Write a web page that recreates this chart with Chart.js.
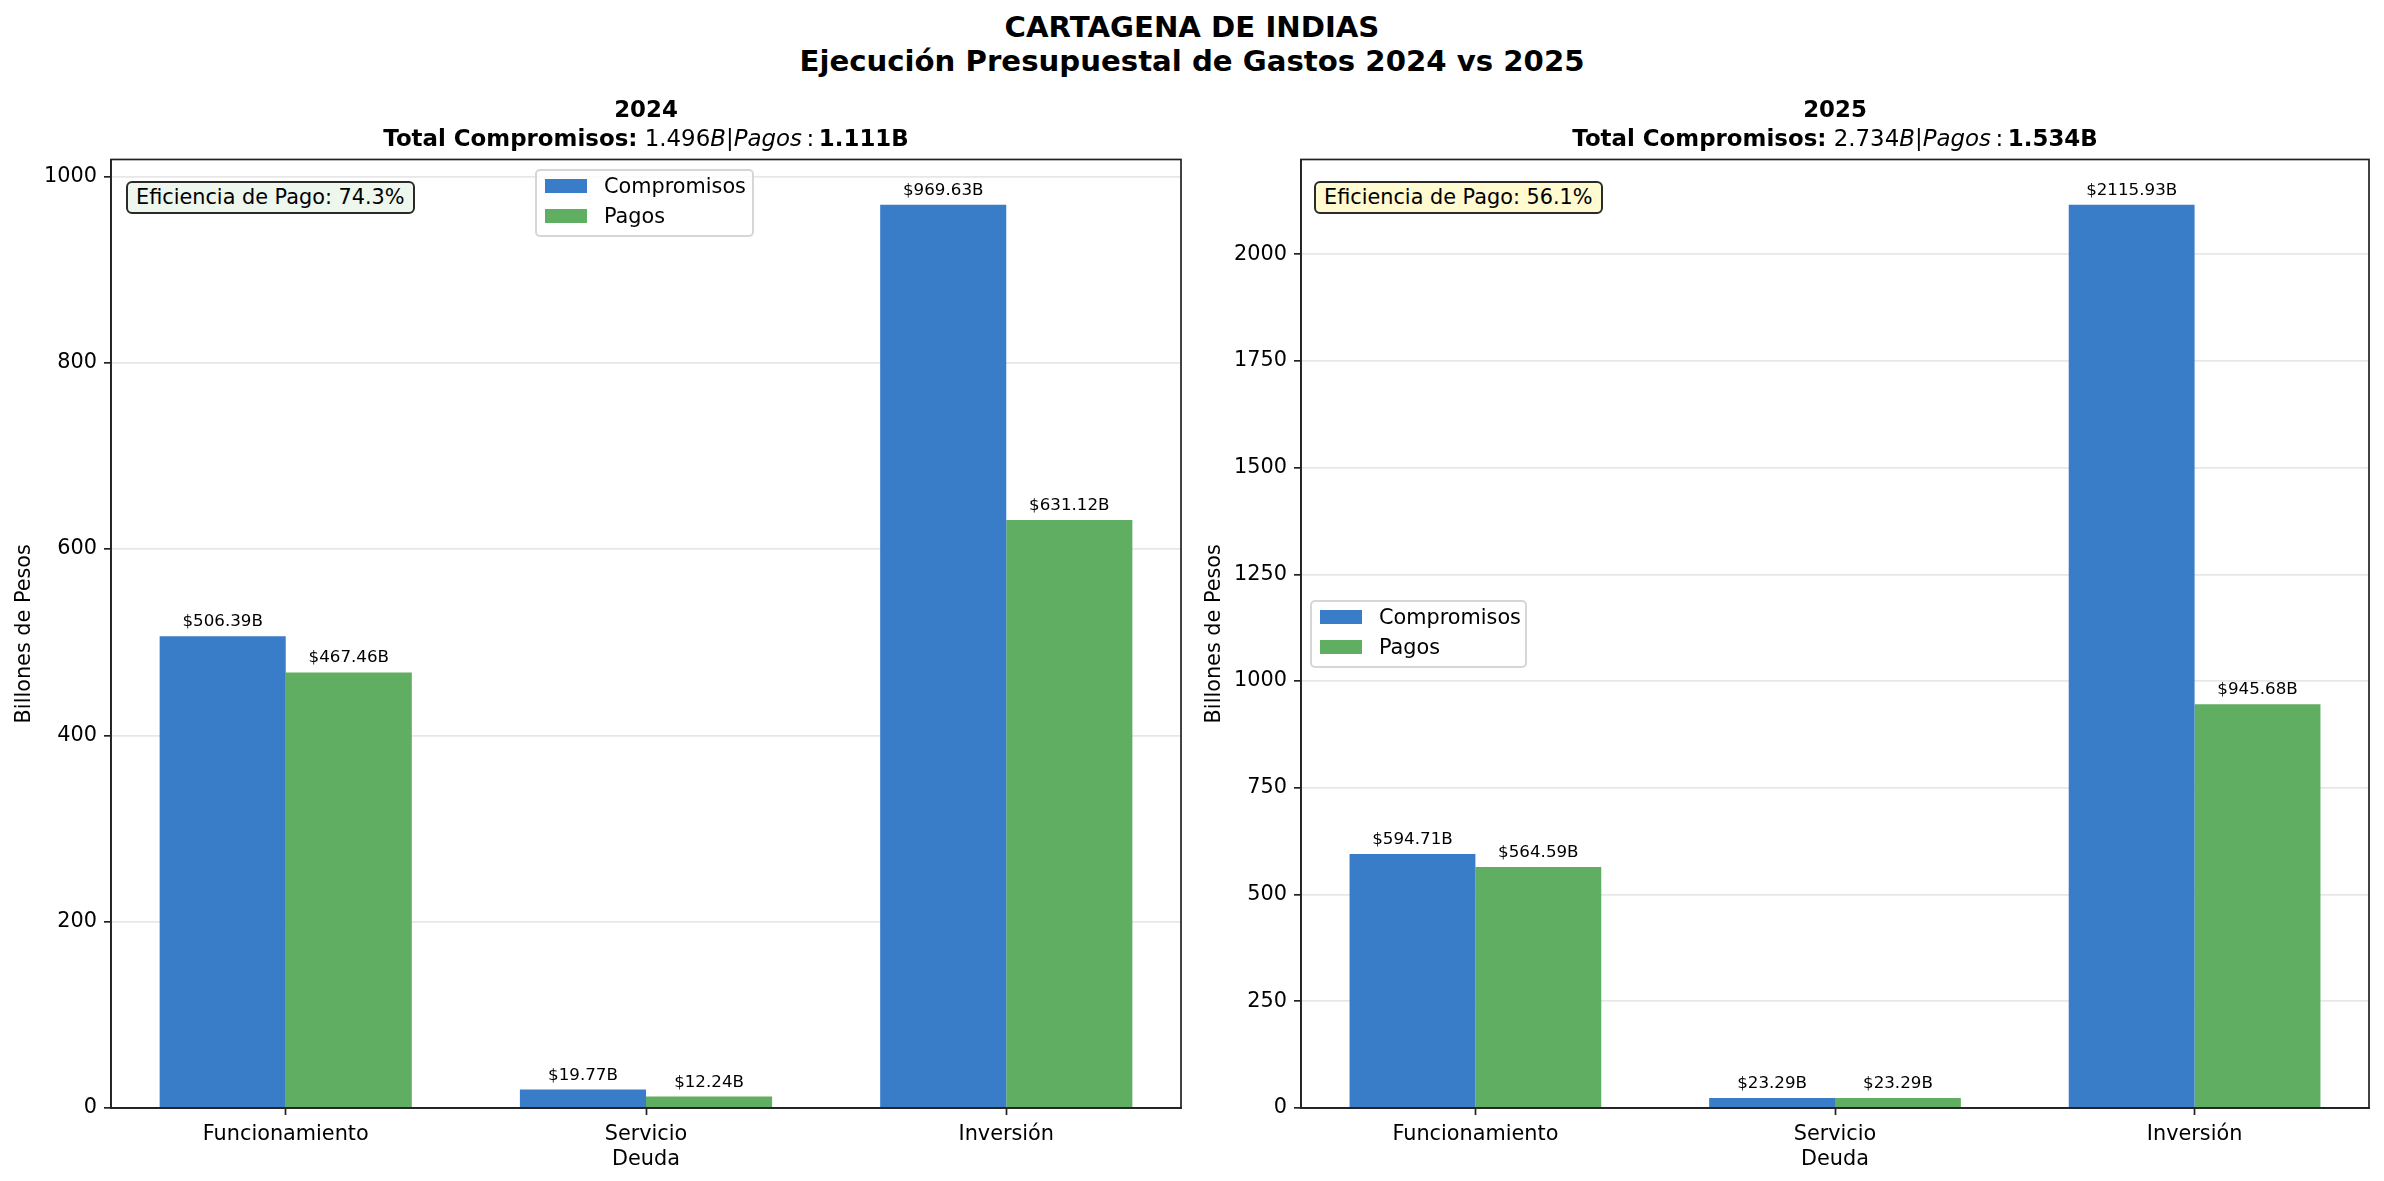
<!DOCTYPE html>
<html><head><meta charset="utf-8">
<script src="https://cdn.jsdelivr.net/npm/chart.js@4.4.1/dist/chart.umd.min.js"></script>
<style>
html,body{margin:0;padding:0;background:#fff;}
body{width:2384px;height:1181px;position:relative;overflow:hidden;font-family:"DejaVu Sans",sans-serif;color:#000;}
.abs{position:absolute;}
#title{left:0;width:2384px;top:10px;text-align:center;font-weight:bold;font-size:29.2px;line-height:34px;white-space:nowrap;}
.sub{top:95px;width:1000px;text-align:center;font-size:22.9px;line-height:28.5px;white-space:nowrap;}
.legend{border:2px solid #d6d6d6;border-radius:5px;background:rgba(255,255,255,0.8);font-size:20.8px;box-sizing:border-box;height:68px;}
.row{position:absolute;left:0;height:30px;line-height:30px;white-space:nowrap;}
.sw{position:absolute;width:42px;height:14.6px;}
.eff{border:2px solid #2a2a2a;border-radius:6px;font-size:20.8px;box-sizing:border-box;height:33px;line-height:29px;padding:0 8px;white-space:nowrap;}
canvas{position:absolute;}
</style></head>
<body>
<div id="title" class="abs"></div>
<canvas id="c2024" width="1240" height="1041" style="left:0px;top:140px"></canvas>
<canvas id="c2025" width="1194" height="1041" style="left:1190px;top:140px"></canvas>
<script>
// ---- data ----
const mainTitle = ["CARTAGENA DE INDIAS", "Ejecución Presupuestal de Gastos 2024 vs 2025"];
const categories = [["Funcionamiento"], ["Servicio", "Deuda"], ["Inversión"]];
const seriesNames = ["Compromisos", "Pagos"];
const years = ["2024", "2025"];
const comp2024 = [506.39, 19.77, 969.63];
const pagos2024 = [467.46, 12.24, 631.12];
const comp2025 = [594.71, 23.29, 2115.93];
const pagos2025 = [564.59, 23.29, 945.68];
const totalComp = ["1.496", "2.734"];
const totalPagos = ["1.111", "1.534"];
const efficiency = ["74.3%", "56.1%"];
const ticks2024 = [0, 200, 400, 600, 800, 1000];
const ticks2025 = [0, 250, 500, 750, 1000, 1250, 1500, 1750, 2000];
const yLabel = "Billones de Pesos";

const COLORS = ["rgb(57,125,201)", "rgb(96,174,97)"];
const EFF_BG = ["rgb(237,247,238)", "rgb(255,250,208)"];

Chart.defaults.font.family = '"DejaVu Sans", sans-serif';
Chart.defaults.font.size = 20.8;
Chart.defaults.color = '#000';

document.getElementById('title').innerHTML = mainTitle.join('<br>');

const framePlugin = {id:'frame', afterDatasetsDraw(chart){
  const {ctx, chartArea:a} = chart;
  ctx.save(); ctx.strokeStyle = '#222'; ctx.lineWidth = 1.7;
  ctx.strokeRect(a.left, a.top, a.right - a.left, a.bottom - a.top);
  ctx.restore();
}};
const labelPlugin = {id:'vals', afterDatasetsDraw(chart){
  const ctx = chart.ctx; ctx.save();
  ctx.font = '16.7px "DejaVu Sans"'; ctx.fillStyle = '#000';
  ctx.textAlign = 'center'; ctx.textBaseline = 'alphabetic';
  chart.data.datasets.forEach((ds, di) => {
    chart.getDatasetMeta(di).data.forEach((el, i) => {
      ctx.fillText('$' + ds.data[i].y.toFixed(2) + 'B', el.x, el.y - 10);
    });
  });
  ctx.restore();
}};

function makeChart(id, comp, pagos, yTicks, padRight){
  const ymax = Math.max(...comp, ...pagos) * 1.05;
  const vals = [comp, pagos];
  return new Chart(document.getElementById(id), {
    type: 'bar',
    data: { datasets: vals.map((arr, k) => ({
      label: seriesNames[k],
      data: arr.map((v, i) => ({x: i, y: v})),
      backgroundColor: COLORS[k], borderWidth: 0,
      categoryPercentage: 0.7, barPercentage: 1.0
    }))},
    options: {
      responsive: false, animation: false, devicePixelRatio: 1,
      layout: {padding: {top: 19, right: padRight, left: 0, bottom: 0}},
      plugins: {legend: {display: false}, tooltip: {enabled: false}},
      scales: {
        x: {type: 'linear', min: -0.485, max: 2.485, offset: false,
          grid: {display: true, drawOnChartArea: false, drawTicks: true, tickLength: 7, tickColor: '#222', tickWidth: 1.7, offset: false},
          border: {display: true, color: '#222', width: 1.7},
          ticks: {padding: 7, color: '#000', font: {size: 20.8}, maxRotation: 0, autoSkip: false, includeBounds: false,
            callback: (v) => categories[v]},
          afterBuildTicks: s => { s.ticks = categories.map((c, i) => ({value: i})); },
          afterFit: s => { s.height = 73; }
        },
        y: {min: 0, max: ymax,
          grid: {color: '#e7e7e7', lineWidth: 1.67, tickLength: 7, tickColor: '#222', tickWidth: 1.7},
          border: {display: true, color: '#222', width: 1.7},
          ticks: {padding: 7, color: '#000', font: {size: 20.8}, callback: (v) => String(v)},
          afterBuildTicks: s => { s.ticks = yTicks.map(v => ({value: v})); },
          afterFit: s => { s.width = 111; },
          title: {display: true, text: yLabel, color: '#000', font: {size: 20.8}, padding: {top: 12, bottom: 0}}
        }
      }
    },
    plugins: [framePlugin, labelPlugin]
  });
}

makeChart('c2024', comp2024, pagos2024, ticks2024, 59);
makeChart('c2025', comp2025, pagos2025, ticks2025, 15);

// subtitles
const subCenters = [646, 1835];
years.forEach((y, k) => {
  const d = document.createElement('div');
  d.className = 'abs sub';
  d.style.left = (subCenters[k] - 500) + 'px';
  d.innerHTML = '<b>' + y + '</b><br><b>Total Compromisos:</b> ' + totalComp[k] + '<i>B</i>|<i>Pagos</i>\u2009:\u2009<b>' + totalPagos[k] + 'B</b>';
  document.body.appendChild(d);
});

// efficiency boxes
const effPos = [[126, 181], [1314, 181]];
efficiency.forEach((e, k) => {
  const d = document.createElement('div');
  d.className = 'abs eff';
  d.style.left = effPos[k][0] + 'px'; d.style.top = effPos[k][1] + 'px';
  d.style.background = EFF_BG[k];
  d.textContent = 'Eficiencia de Pago: ' + e;
  document.body.appendChild(d);
});

// legends
const legPos = [[535, 169, 219], [1310, 600, 217]];
legPos.forEach(p => {
  const d = document.createElement('div');
  d.className = 'abs legend';
  d.style.left = p[0] + 'px'; d.style.top = p[1] + 'px'; d.style.width = p[2] + 'px';
  seriesNames.forEach((n, k) => {
    const r = document.createElement('div');
    r.className = 'row';
    r.style.top = (17 - 15 - 2 + k * 30) + 'px';
    r.style.width = '100%';
    r.innerHTML = '<div class="sw" style="left:8px;top:7.7px;background:' + COLORS[k] + '"></div><span style="position:absolute;left:67px">' + n + '</span>';
    d.appendChild(r);
  });
  document.body.appendChild(d);
});
</script>
</body></html>
